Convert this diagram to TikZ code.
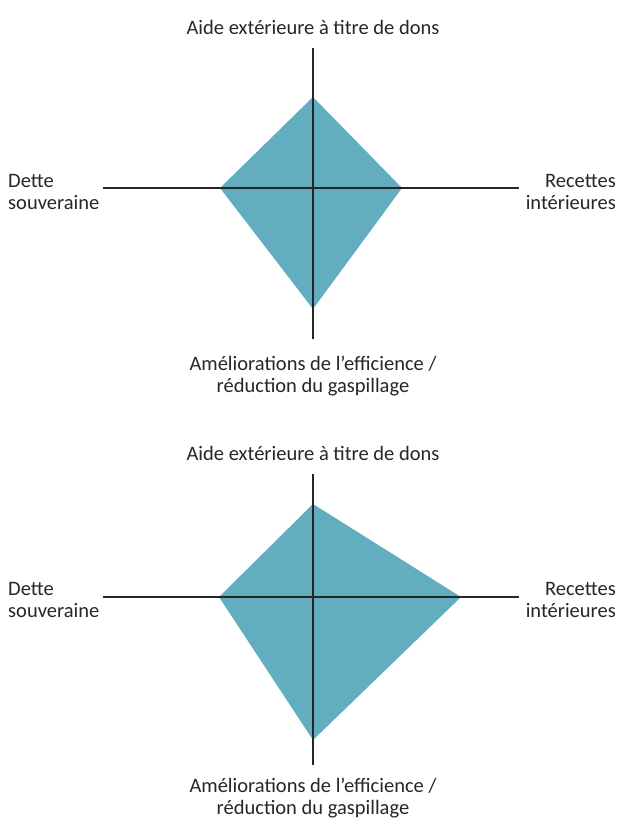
\documentclass[tikz,border=0pt]{standalone}
\usepackage{fontspec}
\setmainfont{Carlito}
\definecolor{kite}{RGB}{98,173,191}
\definecolor{axisgray}{RGB}{38,38,38}
\tikzset{
  axis/.style={draw=axisgray, line width=1.2pt},
  share/.style={fill=kite, draw=none},
  lbl/.style={inner sep=0pt, text=axisgray, font=\fontsize{20.5}{22.5}\selectfont}
}
\begin{document}
\begin{tikzpicture}[x=1pt, y=-1pt]
  \useasboundingbox (0,0) rectangle (619,820);

  % ---- first kite: balanced mix ----
  \coordinate (aN) at (313,97);
  \coordinate (aE) at (402,188);
  \coordinate (aS) at (313,309);
  \coordinate (aW) at (220,188);
  \fill[share] (aN) -- (aE) -- (aS) -- (aW) -- cycle;
  % axes
  \coordinate (aTop) at (313,48);
  \coordinate (aBot) at (313,339);
  \coordinate (aLeft) at (103,188);
  \coordinate (aRight) at (519,188);
  \draw[axis] (aTop) -- (aBot);
  \draw[axis] (aLeft) -- (aRight);
  % labels
  \node[lbl] (aAid) at (313,27) {Aide extérieure à titre de dons};
  \node[lbl, anchor=west, align=left] (aDebt) at (8,192) {Dette\\souveraine};
  \node[lbl, anchor=east, align=right] (aTax) at (616,192) {Recettes\\intérieures};
  \node[lbl, align=center] (aEff) at (313,376) {Améliorations de l’efficience /\\réduction du gaspillage};

  % ---- second kite: more domestic revenue ----
  \coordinate (bN) at (313,504);
  \coordinate (bE) at (461,597);
  \coordinate (bS) at (313,740);
  \coordinate (bW) at (219,597);
  \fill[share] (bN) -- (bE) -- (bS) -- (bW) -- cycle;
  % axes
  \coordinate (bTop) at (313,474);
  \coordinate (bBot) at (313,765);
  \coordinate (bLeft) at (103,597);
  \coordinate (bRight) at (519,597);
  \draw[axis] (bTop) -- (bBot);
  \draw[axis] (bLeft) -- (bRight);
  % labels
  \node[lbl] (bAid) at (313,453) {Aide extérieure à titre de dons};
  \node[lbl, anchor=west, align=left] (bDebt) at (8,600) {Dette\\souveraine};
  \node[lbl, anchor=east, align=right] (bTax) at (616,600) {Recettes\\intérieures};
  \node[lbl, align=center] (bEff) at (313,798) {Améliorations de l’efficience /\\réduction du gaspillage};
\end{tikzpicture}
\end{document}
